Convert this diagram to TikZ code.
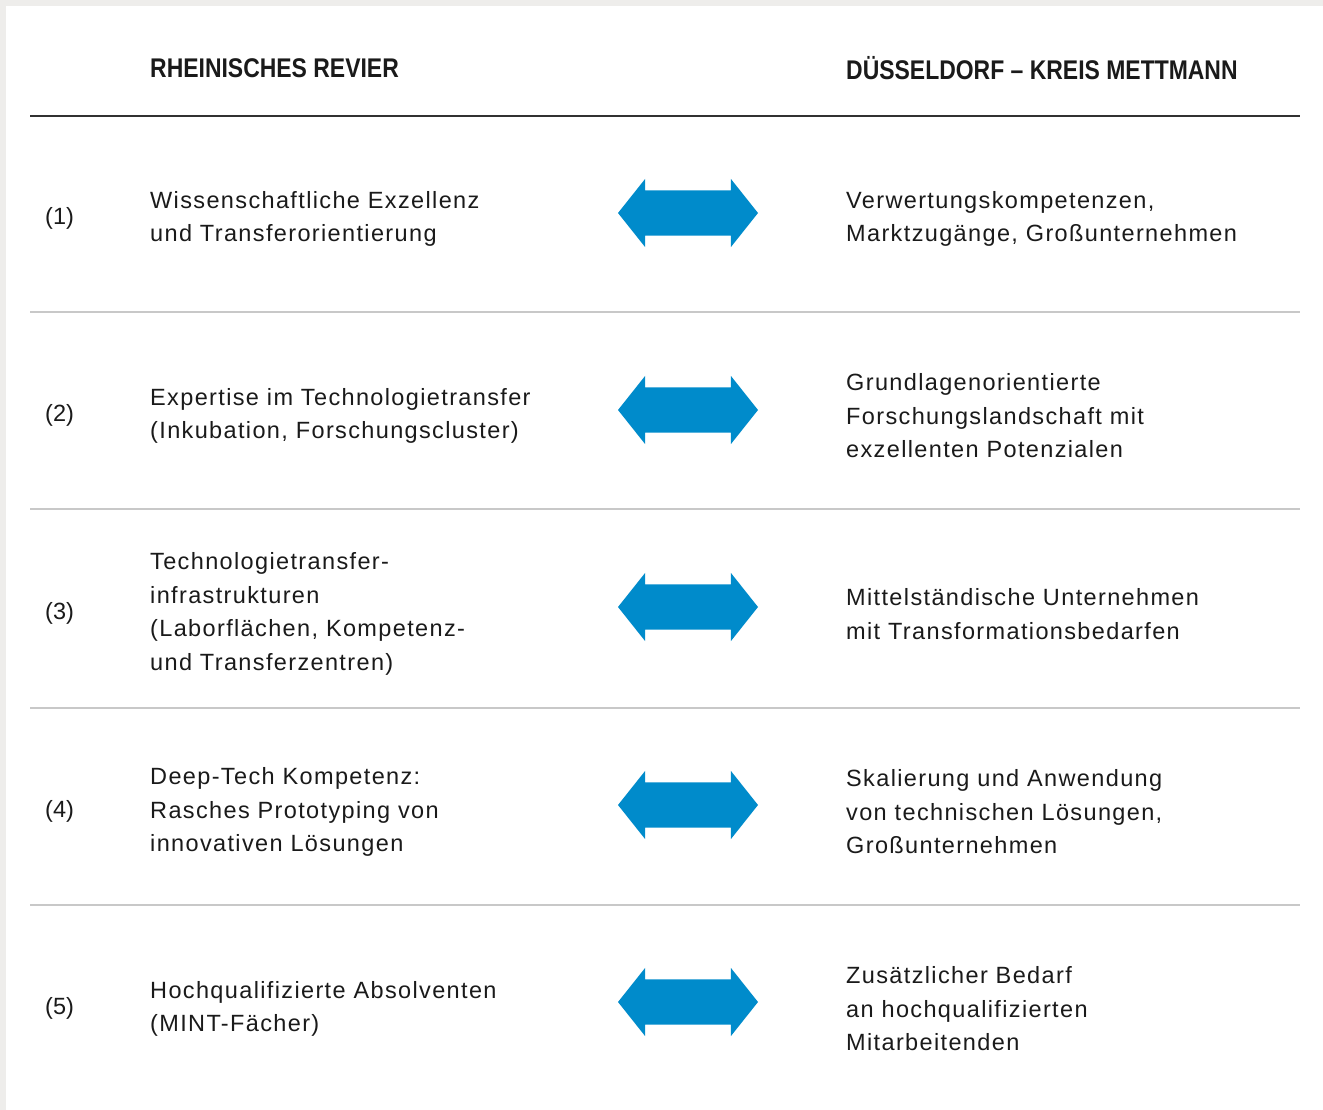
\documentclass[tikz,border=0pt]{standalone}
\usepackage{fontspec}
\setmainfont{Liberation Sans}
\newfontfamily\headfamily[FakeStretch=0.85]{Liberation Sans}
\newfontfamily\bodyfamily[LetterSpace=5.8]{Liberation Sans}
\usetikzlibrary{shapes.arrows}
\definecolor{revierblue}{HTML}{008BCB}
\definecolor{rulegray}{HTML}{C8C8C8}
\definecolor{pagegray}{HTML}{EEEDEB}
\definecolor{darktext}{HTML}{1A1A1A}

\begin{document}
\begin{tikzpicture}[
  x=1pt, y=-1pt,
  every node/.style={inner sep=0pt, text=darktext},
  colhead/.style={anchor=west, font=\headfamily\bfseries\fontsize{27}{33}\selectfont},
  rownum/.style={anchor=west, font=\normalfont\fontsize{23.5}{33.5}\selectfont},
  entry/.style={anchor=west, align=left, font=\bodyfamily\fontsize{23.5}{33.5}\selectfont},
  exchange/.style={double arrow, fill=revierblue, inner sep=22.5pt, minimum height=140pt, minimum width=68pt,
    double arrow head extend=11.5pt, double arrow tip angle=103},
  headrule/.style={line width=1.4pt, draw=darktext!90},
  rowrule/.style={line width=1.2pt, draw=rulegray}
]

% page background
\fill[pagegray] (0,0) rectangle (1323,1110);
\fill[white] (6,6) rectangle (1323,1110);
\useasboundingbox (0,0) rectangle (1323,1110);

% === HEADER ===
\node[colhead] (headleft) at (150,68) {RHEINISCHES REVIER};
\node[colhead] (headright) at (846,68) {DÜSSELDORF – KREIS METTMANN};
\draw[headrule] (30,116) -- (1300,116);

% === ROW 1 ===
\node[rownum] (num1) at (45,218) {(1)};
\node[entry] (left1) at (150,219) {Wissenschaftliche Exzellenz\\und Transferorientierung};
\node[exchange] (swap1) at (688,213) {};
\node[entry] (right1) at (846,219) {Verwertungskompetenzen,\\Marktzugänge, Großunternehmen};
\draw[rowrule] (30,312) -- (1300,312);

% === ROW 2 ===
\node[rownum] (num2) at (45,415) {(2)};
\node[entry] (left2) at (150,416) {Expertise im Technologietransfer\\(Inkubation, Forschungscluster)};
\node[exchange] (swap2) at (688,410) {};
\node[entry] (right2) at (846,416) {Grundlagenorientierte\\Forschungslandschaft mit\\exzellenten Potenzialen};
\draw[rowrule] (30,509) -- (1300,509);

% === ROW 3 ===
\node[rownum] (num3) at (45,613) {(3)};
\node[entry] (left3) at (150,614) {Technologietransfer-\\infrastrukturen\\(Laborflächen, Kompetenz-\\und Transferzentren)};
\node[exchange] (swap3) at (688,607) {};
\node[entry] (right3) at (846,614) {Mittelständische Unternehmen\\mit Transformationsbedarfen};
\draw[rowrule] (30,708) -- (1300,708);

% === ROW 4 ===
\node[rownum] (num4) at (45,811) {(4)};
\node[entry] (left4) at (150,812) {Deep-Tech Kompetenz:\\Rasches Prototyping von\\innovativen Lösungen};
\node[exchange] (swap4) at (688,805) {};
\node[entry] (right4) at (846,812) {Skalierung und Anwendung\\von technischen Lösungen,\\Großunternehmen};
\draw[rowrule] (30,905) -- (1300,905);

% === ROW 5 ===
\node[rownum] (num5) at (45,1008) {(5)};
\node[entry] (left5) at (150,1009) {Hochqualifizierte Absolventen\\(MINT-Fächer)};
\node[exchange] (swap5) at (688,1002) {};
\node[entry] (right5) at (846,1009) {Zusätzlicher Bedarf\\an hochqualifizierten\\Mitarbeitenden};

\end{tikzpicture}
\end{document}
